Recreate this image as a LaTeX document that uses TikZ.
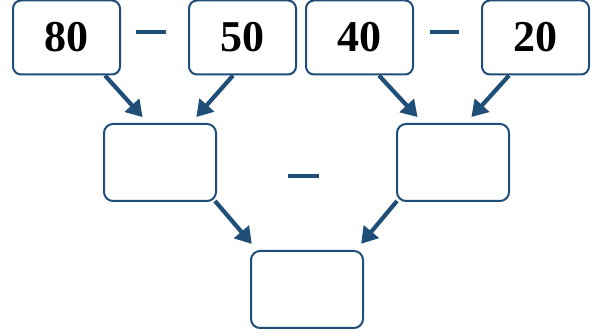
\documentclass[tikz,border=0pt]{standalone}
\usepackage{fontspec}
\setmainfont{Liberation Serif}
\usetikzlibrary{arrows.meta}
\definecolor{dblue}{HTML}{1F4E79}
\tikzset{
  numbox/.style={draw=dblue, line width=2pt, rounded corners=8pt, fill=white,
    minimum width=107pt, minimum height=74pt, inner sep=0pt,
    font=\fontsize{44}{46}\selectfont\bfseries},
  emptybox/.style={draw=dblue, line width=2pt, rounded corners=9pt, fill=white,
    minimum width=112pt, minimum height=77pt, inner sep=0pt},
  minusbar/.style={fill=dblue, draw=none, inner sep=0pt, minimum height=3.5pt},
  arr/.style={draw=dblue, line width=4.2pt, -{Triangle[length=16pt,width=19pt]}, shorten >=8pt}
}
\begin{document}
\begin{tikzpicture}[x=1pt,y=-1pt]
\useasboundingbox (0,0) rectangle (605,336);
\node[numbox] (b80) at (66.5,37.5) {80};
\node[numbox] (b50) at (242.5,37.5) {50};
\node[numbox] (b40) at (359.5,37.5) {40};
\node[numbox] (b20) at (535.5,37.5) {20};
\node[minusbar, minimum width=30pt] (mA) at (151,32) {};
\node[minusbar, minimum width=29pt] (mB) at (444.5,32) {};
\node[emptybox] (m1) at (160,162.5) {};
\node[emptybox] (m2) at (453,162.5) {};
\node[minusbar, minimum width=31pt, minimum height=4.5pt] (mC) at (303.5,176) {};
\node[emptybox] (bot) at (307,289.5) {};
\draw[arr] ([xshift=38.5pt]b80.south) -- ([xshift=-12pt]m1.north);
\draw[arr] ([xshift=-9.5pt]b50.south) -- ([xshift=31pt]m1.north);
\draw[arr] ([xshift=19.5pt]b40.south) -- ([xshift=-30pt]m2.north);
\draw[arr] ([xshift=-26.5pt]b20.south) -- ([xshift=13pt]m2.north);
\draw[arr] ([xshift=-2pt,yshift=1pt]m1.south east) -- ([xshift=-50pt]bot.north);
\draw[arr] ([xshift=1pt,yshift=1pt]m2.south west) -- ([xshift=49pt]bot.north);
\end{tikzpicture}
\end{document}
